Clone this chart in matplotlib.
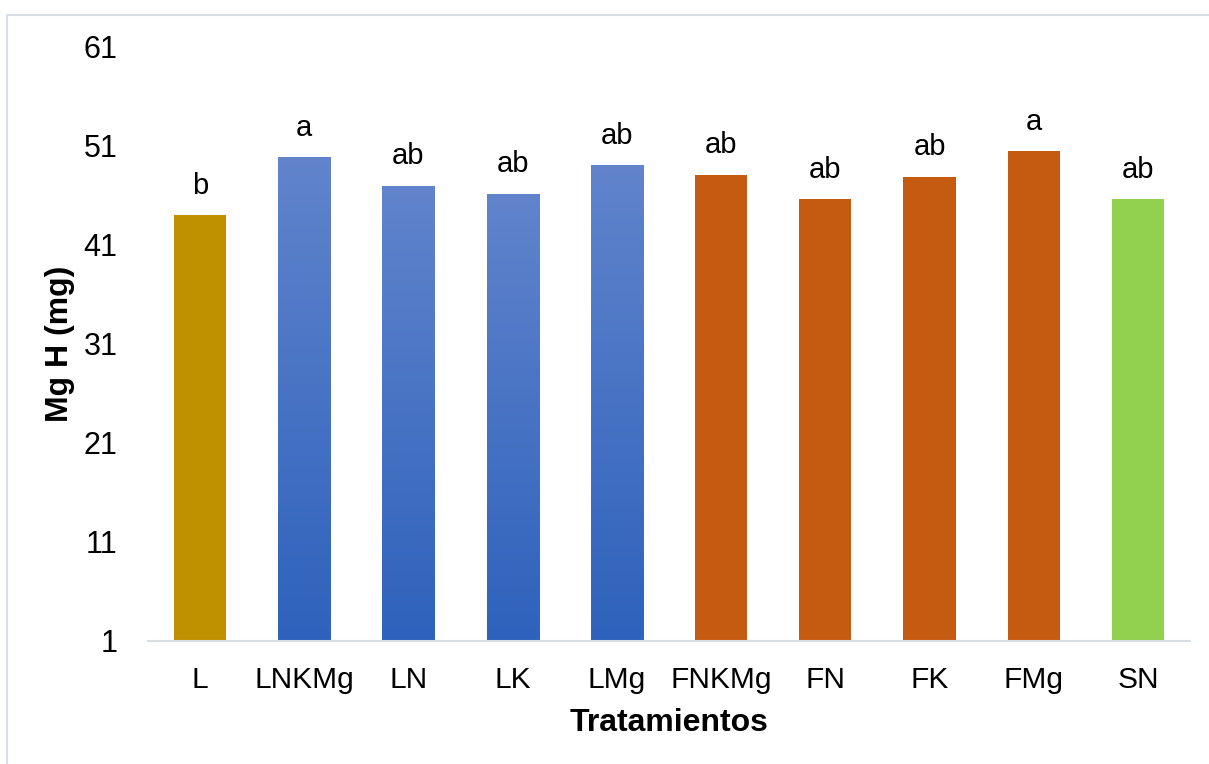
import matplotlib.pyplot as plt
import numpy as np
from matplotlib.colors import LinearSegmentedColormap
from matplotlib.lines import Line2D

plt.rcParams['font.family'] = ['Liberation Sans', 'DejaVu Sans']

tratamientos = ["L", "LNKMg", "LN", "LK", "LMg", "FNKMg", "FN", "FK", "FMg", "SN"]
mg_h = [44.0, 49.9, 47.0, 46.2, 49.1, 48.1, 45.6, 47.9, 50.5, 45.6]
letras = ["b", "a", "ab", "ab", "ab", "ab", "ab", "ab", "a", "ab"]
grupo = ["L", "B", "B", "B", "B", "F", "F", "F", "F", "S"]
yticks = [1, 11, 21, 31, 41, 51, 61]

colores = {"L": "#BF9000", "B": "#4472C4", "F": "#C55A11", "S": "#92D050"}
blue_grad = LinearSegmentedColormap.from_list("bg", ["#2E62BC", "#6184CC"])

fig = plt.figure(figsize=(12.09, 7.64), dpi=100)
ax = fig.add_axes([0.1224, 0.161, 0.8619, 0.7775])

# marco del grafico (solo arriba e izquierda visibles)
fx, fy = 7 / 1209, 1 - 15 / 764
fig.lines.append(Line2D([fx, fx, 1.0], [0.0, fy, fy], transform=fig.transFigure,
                        color="#D9DEE5", linewidth=1.5))

x = np.arange(len(tratamientos))
bars = ax.bar(x, mg_h, width=0.5, bottom=0,
              color=[colores[g] for g in grupo], zorder=2)

ax.set_ylim(1, 61)
ax.set_xlim(-0.5, len(tratamientos) - 0.5)

# degradado en las barras azules
grad = np.linspace(0, 1, 256).reshape(-1, 1)
for b, g in zip(bars, grupo):
    if g == "B":
        b.set_facecolor("none")
        x0, w, h = b.get_x(), b.get_width(), b.get_height()
        im = ax.imshow(grad, cmap=blue_grad, origin="lower", aspect="auto",
                       extent=(x0, x0 + w, 1, h), zorder=2)
        im.set_clip_path(b)

for xi, v, t in zip(x, mg_h, letras):
    ax.annotate(t, (xi, v), xytext=(0, 11), textcoords="offset points",
                ha="center", va="bottom", fontsize=21)

ax.set_xticks(x)
ax.set_xticklabels(tratamientos, fontsize=21.5)
ax.set_yticks(yticks)
ax.set_yticklabels([str(t) for t in yticks], fontsize=22)
ax.tick_params(axis="both", length=0)
ax.tick_params(axis="y", pad=22)
ax.tick_params(axis="x", pad=18)

for s in ["top", "right", "left"]:
    ax.spines[s].set_visible(False)
ax.spines["bottom"].set_color("#D9DEE5")
ax.spines["bottom"].set_linewidth(1.5)

ax.set_xlabel("Tratamientos", fontsize=23, fontweight="bold", labelpad=10)
ax.set_ylabel("Mg H (mg)", fontsize=23, fontweight="bold", labelpad=6)

plt.savefig("out.png", dpi=100)
